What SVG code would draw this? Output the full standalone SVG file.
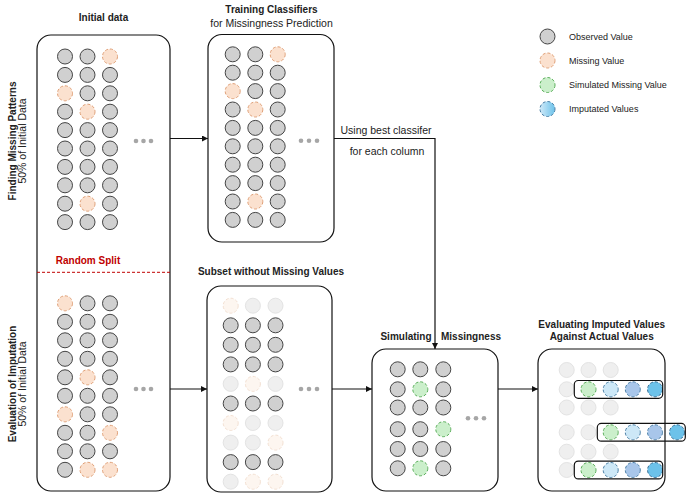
<svg xmlns="http://www.w3.org/2000/svg" width="688" height="496" viewBox="0 0 688 496">
<defs>
<style>
text{font-family:"Liberation Sans",Arial,sans-serif;fill:#222}
.t{font-weight:bold;font-size:10px;text-anchor:middle}
.r{font-size:10.5px;text-anchor:middle}
.lg{font-size:9px}
.panel{fill:#fff;stroke:#111;stroke-width:1.2}
circle{stroke-width:1}
.o{fill:#d0d0d0;stroke:#454545}
.m{fill:#fbe1cf;stroke:#e0a077;stroke-dasharray:3 2}
.s{fill:#cbefcb;stroke:#5aae5a;stroke-dasharray:3 2}
.fo{fill:#efefef;stroke:#e3e3e3}
.fm{fill:#fdf6f0;stroke:#f3e0d2;stroke-dasharray:3 2}
.b1{fill:#cde8f7;stroke:#4a7fa6;stroke-dasharray:3 2}
.b2{fill:#a8c6ea;stroke:#4a7fa6;stroke-dasharray:3 2}
.b3{fill:#6cc2ea;stroke:#3a6f96;stroke-dasharray:3 2}
.dot{fill:#a6a6a6;stroke:none}
.conn{fill:none;stroke:#111;stroke-width:1.2}
.grp{fill:none;stroke:#111;stroke-width:1.2}
</style>
<marker id="ah" markerWidth="6" markerHeight="6" refX="6" refY="3" orient="auto" markerUnits="userSpaceOnUse">
<path d="M0,0 L6,3 L0,6 z" fill="#111"/>
</marker>
<linearGradient id="bg" x1="0" y1="0" x2="1" y2="0">
<stop offset="0" stop-color="#cfe9f8"/>
<stop offset="1" stop-color="#6cc2ea"/>
</linearGradient>
</defs>

<g id="side-labels">
<text class="t" transform="translate(15.5,141) rotate(-90)">Finding Missing Patterns</text>
<text class="r" transform="translate(26,141) rotate(-90)">50% of Initial Data</text>
<text class="t" transform="translate(15.5,384) rotate(-90)">Evaluation of Imputation</text>
<text class="r" transform="translate(26,384) rotate(-90)">50% of Initial Data</text>
</g>

<g id="legend">
<circle class="o" cx="547.5" cy="36.5" r="7.5"/>
<text class="lg" x="569" y="39.7">Observed Value</text>
<circle class="m" cx="547.5" cy="60.5" r="7.5"/>
<text class="lg" x="569" y="63.7">Missing Value</text>
<circle class="s" cx="547.5" cy="85" r="7.5"/>
<text class="lg" x="569" y="88.2">Simulated Missing Value</text>
<circle cx="547.5" cy="109" r="7.5" fill="url(#bg)" stroke="#4a7fa6" stroke-dasharray="3 2"/>
<text class="lg" x="569" y="112.2">Imputated Values</text>
</g>

<g id="initial-data">
<text class="t" x="103.5" y="21">Initial data</text>
<rect class="panel" x="37" y="35" width="133" height="456" rx="14"/>
<g>
<circle class="o" cx="65" cy="56.5" r="7.5"/><circle class="o" cx="87.5" cy="56.5" r="7.5"/><circle class="m" cx="110" cy="56.5" r="7.5"/>
<circle class="o" cx="65" cy="74.9" r="7.5"/><circle class="o" cx="87.5" cy="74.9" r="7.5"/><circle class="o" cx="110" cy="74.9" r="7.5"/>
<circle class="m" cx="65" cy="93.3" r="7.5"/><circle class="o" cx="87.5" cy="93.3" r="7.5"/><circle class="o" cx="110" cy="93.3" r="7.5"/>
<circle class="o" cx="65" cy="111.7" r="7.5"/><circle class="m" cx="87.5" cy="111.7" r="7.5"/><circle class="o" cx="110" cy="111.7" r="7.5"/>
<circle class="o" cx="65" cy="130.1" r="7.5"/><circle class="o" cx="87.5" cy="130.1" r="7.5"/><circle class="o" cx="110" cy="130.1" r="7.5"/>
<circle class="o" cx="65" cy="148.5" r="7.5"/><circle class="o" cx="87.5" cy="148.5" r="7.5"/><circle class="o" cx="110" cy="148.5" r="7.5"/>
<circle class="o" cx="65" cy="166.9" r="7.5"/><circle class="o" cx="87.5" cy="166.9" r="7.5"/><circle class="o" cx="110" cy="166.9" r="7.5"/>
<circle class="o" cx="65" cy="185.3" r="7.5"/><circle class="o" cx="87.5" cy="185.3" r="7.5"/><circle class="o" cx="110" cy="185.3" r="7.5"/>
<circle class="o" cx="65" cy="203.7" r="7.5"/><circle class="m" cx="87.5" cy="203.7" r="7.5"/><circle class="o" cx="110" cy="203.7" r="7.5"/>
<circle class="o" cx="65" cy="222.1" r="7.5"/><circle class="o" cx="87.5" cy="222.1" r="7.5"/><circle class="o" cx="110" cy="222.1" r="7.5"/>
<circle class="dot" cx="136" cy="141" r="2.3"/><circle class="dot" cx="143.5" cy="141" r="2.3"/><circle class="dot" cx="151" cy="141" r="2.3"/>
</g>
<text x="88" y="263.5" style="font-weight:bold;font-size:10px;text-anchor:middle;fill:#c00000">Random Split</text>
<line x1="37" y1="272.3" x2="170" y2="272.3" stroke="#c00000" stroke-width="1" stroke-dasharray="3 2"/>
<g>
<circle class="m" cx="65" cy="303.3" r="7.5"/><circle class="o" cx="87.5" cy="303.3" r="7.5"/><circle class="o" cx="110" cy="303.3" r="7.5"/>
<circle class="o" cx="65" cy="321.8" r="7.5"/><circle class="o" cx="87.5" cy="321.8" r="7.5"/><circle class="o" cx="110" cy="321.8" r="7.5"/>
<circle class="o" cx="65" cy="340.3" r="7.5"/><circle class="o" cx="87.5" cy="340.3" r="7.5"/><circle class="o" cx="110" cy="340.3" r="7.5"/>
<circle class="o" cx="65" cy="358.8" r="7.5"/><circle class="o" cx="87.5" cy="358.8" r="7.5"/><circle class="o" cx="110" cy="358.8" r="7.5"/>
<circle class="o" cx="65" cy="377.3" r="7.5"/><circle class="m" cx="87.5" cy="377.3" r="7.5"/><circle class="o" cx="110" cy="377.3" r="7.5"/>
<circle class="o" cx="65" cy="395.8" r="7.5"/><circle class="o" cx="87.5" cy="395.8" r="7.5"/><circle class="o" cx="110" cy="395.8" r="7.5"/>
<circle class="m" cx="65" cy="414.3" r="7.5"/><circle class="o" cx="87.5" cy="414.3" r="7.5"/><circle class="o" cx="110" cy="414.3" r="7.5"/>
<circle class="o" cx="65" cy="432.8" r="7.5"/><circle class="o" cx="87.5" cy="432.8" r="7.5"/><circle class="m" cx="110" cy="432.8" r="7.5"/>
<circle class="o" cx="65" cy="451.3" r="7.5"/><circle class="o" cx="87.5" cy="451.3" r="7.5"/><circle class="o" cx="110" cy="451.3" r="7.5"/>
<circle class="o" cx="65" cy="469.8" r="7.5"/><circle class="m" cx="87.5" cy="469.8" r="7.5"/><circle class="m" cx="110" cy="469.8" r="7.5"/>
<circle class="dot" cx="136" cy="389" r="2.3"/><circle class="dot" cx="143.5" cy="389" r="2.3"/><circle class="dot" cx="151" cy="389" r="2.3"/>
</g>
</g>

<g id="training-classifiers">
<text class="t" x="271.5" y="12.5">Training Classifiers</text>
<text class="r" x="271.5" y="26.5">for Missingness Prediction</text>
<rect class="panel" x="208" y="34.5" width="126" height="207.5" rx="14"/>
<circle class="o" cx="232.7" cy="54.3" r="7.5"/><circle class="o" cx="255.3" cy="54.3" r="7.5"/><circle class="m" cx="277.7" cy="54.3" r="7.5"/>
<circle class="o" cx="232.7" cy="72.7" r="7.5"/><circle class="o" cx="255.3" cy="72.7" r="7.5"/><circle class="o" cx="277.7" cy="72.7" r="7.5"/>
<circle class="m" cx="232.7" cy="91.1" r="7.5"/><circle class="o" cx="255.3" cy="91.1" r="7.5"/><circle class="o" cx="277.7" cy="91.1" r="7.5"/>
<circle class="o" cx="232.7" cy="109.5" r="7.5"/><circle class="m" cx="255.3" cy="109.5" r="7.5"/><circle class="o" cx="277.7" cy="109.5" r="7.5"/>
<circle class="o" cx="232.7" cy="127.9" r="7.5"/><circle class="o" cx="255.3" cy="127.9" r="7.5"/><circle class="o" cx="277.7" cy="127.9" r="7.5"/>
<circle class="o" cx="232.7" cy="146.3" r="7.5"/><circle class="o" cx="255.3" cy="146.3" r="7.5"/><circle class="o" cx="277.7" cy="146.3" r="7.5"/>
<circle class="o" cx="232.7" cy="164.7" r="7.5"/><circle class="o" cx="255.3" cy="164.7" r="7.5"/><circle class="o" cx="277.7" cy="164.7" r="7.5"/>
<circle class="o" cx="232.7" cy="183.1" r="7.5"/><circle class="o" cx="255.3" cy="183.1" r="7.5"/><circle class="o" cx="277.7" cy="183.1" r="7.5"/>
<circle class="o" cx="232.7" cy="201.5" r="7.5"/><circle class="m" cx="255.3" cy="201.5" r="7.5"/><circle class="o" cx="277.7" cy="201.5" r="7.5"/>
<circle class="o" cx="232.7" cy="219.9" r="7.5"/><circle class="o" cx="255.3" cy="219.9" r="7.5"/><circle class="o" cx="277.7" cy="219.9" r="7.5"/>
<circle class="dot" cx="301" cy="140.7" r="2.3"/><circle class="dot" cx="309" cy="140.7" r="2.3"/><circle class="dot" cx="317" cy="140.7" r="2.3"/>
</g>

<g id="subset">
<text class="t" x="271" y="274.5">Subset without Missing Values</text>
<rect class="panel" x="207" y="286" width="125" height="206" rx="14"/>
<circle class="fm" cx="230.7" cy="305.7" r="7.5"/><circle class="fo" cx="252.9" cy="305.7" r="7.5"/><circle class="fo" cx="275.5" cy="305.7" r="7.5"/>
<circle class="o" cx="230.7" cy="325.3" r="7.5"/><circle class="o" cx="252.9" cy="325.3" r="7.5"/><circle class="o" cx="275.5" cy="325.3" r="7.5"/>
<circle class="o" cx="230.7" cy="344.8" r="7.5"/><circle class="o" cx="252.9" cy="344.8" r="7.5"/><circle class="o" cx="275.5" cy="344.8" r="7.5"/>
<circle class="o" cx="230.7" cy="364.4" r="7.5"/><circle class="o" cx="252.9" cy="364.4" r="7.5"/><circle class="o" cx="275.5" cy="364.4" r="7.5"/>
<circle class="fo" cx="230.7" cy="383.9" r="7.5"/><circle class="fm" cx="252.9" cy="383.9" r="7.5"/><circle class="fo" cx="275.5" cy="383.9" r="7.5"/>
<circle class="o" cx="230.7" cy="403.5" r="7.5"/><circle class="o" cx="252.9" cy="403.5" r="7.5"/><circle class="o" cx="275.5" cy="403.5" r="7.5"/>
<circle class="fm" cx="230.7" cy="423" r="7.5"/><circle class="fo" cx="252.9" cy="423" r="7.5"/><circle class="fo" cx="275.5" cy="423" r="7.5"/>
<circle class="fo" cx="230.7" cy="442.6" r="7.5"/><circle class="fo" cx="252.9" cy="442.6" r="7.5"/><circle class="fm" cx="275.5" cy="442.6" r="7.5"/>
<circle class="o" cx="230.7" cy="462.1" r="7.5"/><circle class="o" cx="252.9" cy="462.1" r="7.5"/><circle class="o" cx="275.5" cy="462.1" r="7.5"/>
<circle class="fo" cx="230.7" cy="481.7" r="7.5"/><circle class="fm" cx="252.9" cy="481.7" r="7.5"/><circle class="fm" cx="275.5" cy="481.7" r="7.5"/>
<circle class="dot" cx="301" cy="389" r="2.3"/><circle class="dot" cx="309" cy="389" r="2.3"/><circle class="dot" cx="317" cy="389" r="2.3"/>
</g>

<g id="simulating">
<text class="t" x="406" y="340" >Simulating</text>
<text class="t" x="471" y="340">Missingness</text>
<rect class="panel" x="372" y="349" width="126" height="142" rx="14"/>
<circle class="o" cx="397.7" cy="369.3" r="7.5"/><circle class="o" cx="420.3" cy="369.3" r="7.5"/><circle class="o" cx="443.3" cy="369.3" r="7.5"/>
<circle class="o" cx="397.7" cy="389.3" r="7.5"/><circle class="s" cx="420.3" cy="389.3" r="7.5"/><circle class="o" cx="443.3" cy="389.3" r="7.5"/>
<circle class="o" cx="397.7" cy="407.5" r="7.5"/><circle class="o" cx="420.3" cy="407.5" r="7.5"/><circle class="o" cx="443.3" cy="407.5" r="7.5"/>
<circle class="o" cx="397.7" cy="429.2" r="7.5"/><circle class="o" cx="420.3" cy="429.2" r="7.5"/><circle class="s" cx="443.3" cy="429.2" r="7.5"/>
<circle class="o" cx="397.7" cy="449" r="7.5"/><circle class="o" cx="420.3" cy="449" r="7.5"/><circle class="o" cx="443.3" cy="449" r="7.5"/>
<circle class="o" cx="397.7" cy="468.3" r="7.5"/><circle class="s" cx="420.3" cy="468.3" r="7.5"/><circle class="o" cx="443.3" cy="468.3" r="7.5"/>
<circle class="dot" cx="468" cy="418.3" r="2.3"/><circle class="dot" cx="476" cy="418.3" r="2.3"/><circle class="dot" cx="484" cy="418.3" r="2.3"/>
</g>

<g id="evaluating">
<text class="t" x="601.7" y="327.5">Evaluating Imputed Values</text>
<text class="t" x="601.7" y="340.2">Against Actual Values</text>
<rect class="panel" x="538" y="349" width="127" height="142" rx="14"/>
<circle class="fo" cx="566.7" cy="370" r="7.5"/><circle class="fo" cx="588.5" cy="370" r="7.5"/><circle class="fo" cx="610.7" cy="370" r="7.5"/>
<circle class="fo" cx="566.7" cy="389.3" r="7.5"/>
<circle class="s" cx="588.5" cy="389.3" r="7.5"/><circle class="b1" cx="610.7" cy="389.3" r="7.5"/><circle class="b2" cx="632.8" cy="389.3" r="7.5"/><circle class="b3" cx="655" cy="389.3" r="7.5"/>
<rect class="grp" x="574.3" y="380.5" width="88.4" height="17.8" rx="4"/>
<circle class="fo" cx="566.7" cy="407.5" r="7.5"/><circle class="fo" cx="588.5" cy="407.5" r="7.5"/><circle class="fo" cx="610.7" cy="407.5" r="7.5"/>
<circle class="fo" cx="566.7" cy="432.3" r="7.5"/><circle class="fo" cx="588.5" cy="432.3" r="7.5"/>
<circle class="s" cx="610.7" cy="432.3" r="7.5"/><circle class="b1" cx="632.8" cy="432.3" r="7.5"/><circle class="b2" cx="655" cy="432.3" r="7.5"/><circle class="b3" cx="677" cy="432.3" r="7.5"/>
<rect class="grp" x="597.3" y="423.4" width="88" height="17.8" rx="4"/>
<circle class="fo" cx="566.7" cy="451.7" r="7.5"/><circle class="fo" cx="588.5" cy="451.7" r="7.5"/><circle class="fo" cx="610.7" cy="451.7" r="7.5"/>
<circle class="fo" cx="566.7" cy="470" r="7.5"/>
<circle class="s" cx="588.5" cy="470" r="7.5"/><circle class="b1" cx="610.7" cy="470" r="7.5"/><circle class="b2" cx="632.8" cy="470" r="7.5"/><circle class="b3" cx="655" cy="470" r="7.5"/>
<rect class="grp" x="574.3" y="461.1" width="88.4" height="17.8" rx="4"/>
</g>

<g id="connectors">
<path class="conn" d="M170,138.5 H208" marker-end="url(#ah)"/>
<path class="conn" d="M334,138.5 H435 V349" marker-end="url(#ah)"/>
<text class="r" x="386" y="133.5">Using best classifer</text>
<text class="r" x="387" y="155">for each column</text>
<path class="conn" d="M170,389 H207" marker-end="url(#ah)"/>
<path class="conn" d="M332,389 H372" marker-end="url(#ah)"/>
<path class="conn" d="M498,389 H538" marker-end="url(#ah)"/>
</g>
</svg>
